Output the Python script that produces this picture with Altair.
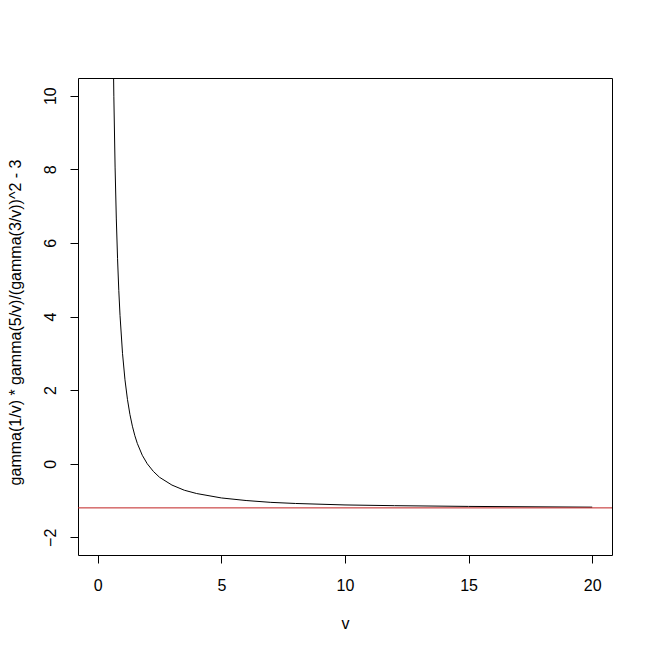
import altair as alt
import pandas as pd

# values
v_vals = [0.6, 0.65, 0.7, 0.75, 0.8, 0.85, 0.9, 1.0, 1.1, 1.2, 1.3, 1.4, 1.5, 1.6,
          1.8, 2.0, 2.25, 2.5, 3.0, 3.5, 4.0, 5.0, 6.0, 7.0, 8.0, 10.0, 12.0, 15.0, 20.0]
k_vals = [12.58, 9.97, 8.06, 6.65, 5.57, 4.71, 4.03, 3.00, 2.28, 1.75, 1.34, 1.02, 0.76, 0.55,
          0.23, 0.00, -0.21, -0.37, -0.58, -0.72, -0.81, -0.93, -1.00, -1.05, -1.08, -1.12,
          -1.14, -1.16, -1.18]
ref_level = [-1.2]
x_ticks = [0, 5, 10, 15, 20]
y_ticks = [-2, 0, 2, 4, 6, 8, 10]

curve_df = pd.DataFrame({"v": v_vals, "k": k_vals})
ref_df = pd.DataFrame({"k": ref_level})

FONT = "Arial, Liberation Sans"

xscale = alt.Scale(domain=[-0.8, 20.8], nice=False, zero=False)
yscale = alt.Scale(domain=[-2.48, 10.48], nice=False, zero=False)

xaxis = alt.Axis(values=x_ticks, title="v", domain=False, grid=False,
                 tickSize=8, tickColor="black", tickWidth=1,
                 labelFont=FONT, labelFontSize=16, labelColor="black",
                 labelBaseline="alphabetic", labelPadding=27,
                 titleFont=FONT, titleFontSize=16, titleFontWeight="normal",
                 titleColor="black", titleBaseline="alphabetic", titleY=73)
yaxis = alt.Axis(values=y_ticks, title="gamma(1/v) * gamma(5/v)/(gamma(3/v))^2 - 3",
                 domain=False, grid=False,
                 tickSize=8, tickColor="black", tickWidth=1,
                 labelFont=FONT, labelFontSize=16, labelColor="black",
                 labelAngle=270, labelAlign="center", labelBaseline="alphabetic",
                 labelPadding=15,
                 titleFont=FONT, titleFontSize=16, titleFontWeight="normal",
                 titleColor="black", titleAngle=270, titleBaseline="alphabetic",
                 titleAlign="center", titleX=-58, titleY=244)

line = alt.Chart(curve_df).mark_line(color="black", strokeWidth=1, clip=True).encode(
    x=alt.X("v:Q", scale=xscale, axis=xaxis),
    y=alt.Y("k:Q", scale=yscale, axis=yaxis),
)

rule = alt.Chart(ref_df).mark_rule(color="#c02020", strokeWidth=1).encode(
    y=alt.Y("k:Q", scale=yscale),
)

chart = alt.layer(line, rule).properties(
    width=534, height=477,
    autosize=alt.AutoSizeParams(type="none"),
    padding={"left": 70, "top": 70, "right": 33, "bottom": 90},
    background="white",
).configure_view(stroke="black", strokeWidth=1)

chart.save("out.html", embed_options={"renderer": "svg", "actions": False})
